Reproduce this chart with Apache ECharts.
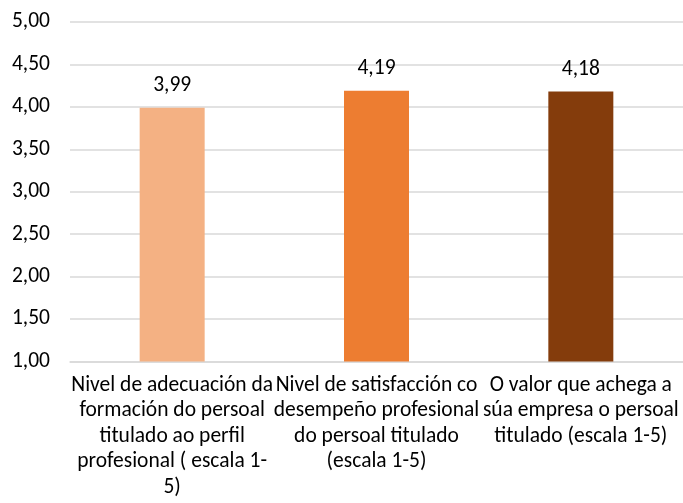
<!DOCTYPE html>
<html>
<head>
<meta charset="utf-8">
<script src="https://cdn.jsdelivr.net/npm/echarts@6/dist/echarts.min.js"></script>
<style>
html,body{margin:0;padding:0;background:#fff;}
#c{width:683px;height:503px;}
</style>
</head>
<body>
<div id="c"></div>
<script>
const categories = [
  "Nivel de adecuación da\nformación do persoal\ntitulado ao perfil\nprofesional ( escala 1-\n5)",
  "Nivel de satisfacción co\ndesempeño profesional\ndo persoal titulado\n(escala 1-5)",
  "O valor que achega a\nsúa empresa o persoal\ntitulado (escala 1-5)"
];
const values = [3.99, 4.19, 4.18];
const barColors = ["#F4B183", "#ED7D31", "#843C0C"];
const yMin = 1, yMax = 5, yStep = 0.5;

const FONT = 'Carlito, Lato, "Liberation Sans", sans-serif';
const fmt = v => v.toFixed(2).replace('.', ',');

const chart = echarts.init(document.getElementById('c'), null, {renderer: 'canvas'});
chart.setOption({
  animation: false,
  backgroundColor: '#ffffff',
  grid: {left: 70, top: 22, width: 618, height: 339.5, containLabel: false},
  xAxis: {
    type: 'category',
    data: categories,
    axisLine: {show: true, lineStyle: {color: '#D9D9D9', width: 1.5}},
    axisTick: {show: false},
    axisLabel: {
      interval: 0,
      margin: 11,
      color: '#000000',
      fontFamily: FONT,
      fontSize: 21.5,
      lineHeight: 25.5,
      align: 'center'
    }
  },
  yAxis: {
    type: 'value',
    min: yMin, max: yMax, interval: yStep,
    axisLine: {show: false},
    axisTick: {show: false},
    splitLine: {lineStyle: {color: '#D9D9D9', width: 1.5}},
    axisLabel: {
      margin: 20,
      color: '#000000',
      fontFamily: FONT,
      fontSize: 21.5,
      formatter: v => fmt(v)
    }
  },
  series: [{
    type: 'bar',
    barWidth: 65,
    data: values.map((v, i) => ({value: v, itemStyle: {color: barColors[i]}})),
    label: {
      show: true,
      position: 'top',
      distance: 11,
      color: '#000000',
      fontFamily: FONT,
      fontSize: 21.5,
      formatter: p => fmt(p.value)
    }
  }]
});
</script>
</body>
</html>
